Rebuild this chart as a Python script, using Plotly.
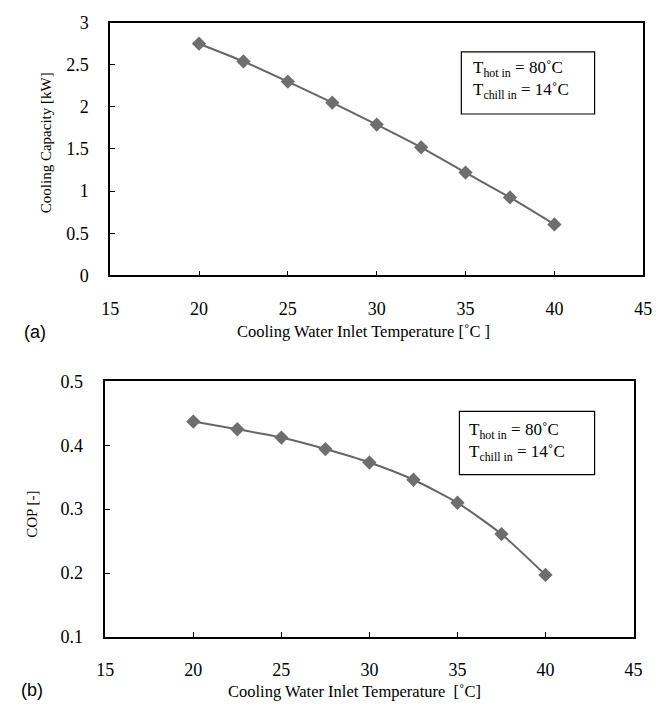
import plotly.graph_objects as go

# Cooling water inlet temperature [°C]
temperature = [20, 22.5, 25, 27.5, 30, 32.5, 35, 37.5, 40]
# Cooling capacity [kW]
capacity = [2.75, 2.54, 2.30, 2.05, 1.79, 1.52, 1.22, 0.925, 0.605]
# Coefficient of performance [-]
cop = [0.437, 0.425, 0.412, 0.394, 0.373, 0.346, 0.310, 0.261, 0.197]

x_ticks = [15, 20, 25, 30, 35, 40, 45]
cap_ticks = [0, 0.5, 1, 1.5, 2, 2.5, 3]
cap_tick_text = ["0", "0.5", "1", "1.5", "2", "2.5", "3"]
cop_ticks = [0.1, 0.2, 0.3, 0.4, 0.5]

W, H = 661, 715
SERIF = "Liberation Serif"
SANS = "Liberation Sans"
LINE = "#666666"
MARK = "#6e6e6e"


def px_x(v):
    return v / W


def px_y(v):
    return 1 - v / H


fig = go.Figure()

fig.add_trace(go.Scatter(
    x=temperature, y=capacity, mode="lines+markers",
    line=dict(color=LINE, width=2, shape="spline", smoothing=0.6),
    marker=dict(symbol="diamond", size=11, color=MARK),
    xaxis="x", yaxis="y", showlegend=False,
))
fig.add_trace(go.Scatter(
    x=temperature, y=cop, mode="lines+markers",
    line=dict(color=LINE, width=2, shape="spline", smoothing=0.6),
    marker=dict(symbol="diamond", size=11, color=MARK),
    xaxis="x2", yaxis="y2", showlegend=False,
))

axis_common = dict(
    showline=True, linecolor="black", linewidth=1.5, mirror=True,
    showgrid=False, zeroline=False,
    ticks="inside", ticklen=5, tickcolor="black", tickwidth=1,
    tickfont=dict(family=SERIF, size=18, color="black"),
)

fig.update_layout(
    width=W, height=H,
    margin=dict(l=0, r=0, t=0, b=0),
    paper_bgcolor="white", plot_bgcolor="white",
    xaxis=dict(domain=[px_x(104), px_x(652)], range=[15, 45],
               tickvals=x_ticks, anchor="y", ticklabelstandoff=16,
               **axis_common),
    yaxis=dict(domain=[px_y(273), px_y(13)], range=[0, 3],
               tickvals=cap_ticks, ticktext=cap_tick_text, anchor="x",
               ticklabelstandoff=16, **axis_common),
    xaxis2=dict(domain=[px_x(99), px_x(642)], range=[15, 45],
                tickvals=x_ticks, anchor="y2", ticklabelstandoff=16,
                **axis_common),
    yaxis2=dict(domain=[px_y(645), px_y(382)], range=[0.1, 0.5],
                tickvals=cop_ticks, tickformat=".1f", anchor="x2",
                ticklabelstandoff=17, **axis_common),
)

xtitle_font = dict(family=SERIF, size=16.5, color="black")
ytitle_font = dict(family=SERIF, size=15, color="black")
label_font = dict(family=SANS, size=18, color="black")
box_font = dict(family=SERIF, size=17, color="black")

annotations = [
    dict(x=px_x(364), y=px_y(331), text="Cooling Water Inlet Temperature [˚C ]",
         font=xtitle_font),
    dict(x=px_x(355), y=px_y(701), text="Cooling Water Inlet Temperature  [˚C]",
         font=xtitle_font),
    dict(x=px_x(38), y=px_y(136), text="Cooling Capacity [kW]",
         font=ytitle_font, textangle=-90),
    dict(x=px_x(24), y=px_y(519), text="COP [-]",
         font=ytitle_font, textangle=-90),
    dict(x=px_x(27), y=px_y(331), text="(a)", font=label_font),
    dict(x=px_x(24), y=px_y(700), text="(b)", font=label_font),
    dict(x=px_x(475), y=px_y(72),
         text="T<sub>hot in</sub> = 80˚C<br>T<sub>chill in</sub> = 14˚C",
         font=box_font, xanchor="left", align="left"),
    dict(x=px_x(471), y=px_y(444),
         text="T<sub>hot in</sub> = 80˚C<br>T<sub>chill in</sub> = 14˚C",
         font=box_font, xanchor="left", align="left"),
]
for a in annotations:
    a.setdefault("xanchor", "center")
    fig.add_annotation(xref="paper", yref="paper", showarrow=False,
                       yanchor="middle", **a)

for x0, y0, x1, y1 in [(465, 43, 602, 107), (463, 413, 602, 478)]:
    fig.add_shape(type="rect", xref="paper", yref="paper",
                  x0=px_x(x0), x1=px_x(x1), y0=px_y(y1), y1=px_y(y0),
                  line=dict(color="black", width=1.2), fillcolor="white",
                  layer="below")

fig.write_html("out.html")
